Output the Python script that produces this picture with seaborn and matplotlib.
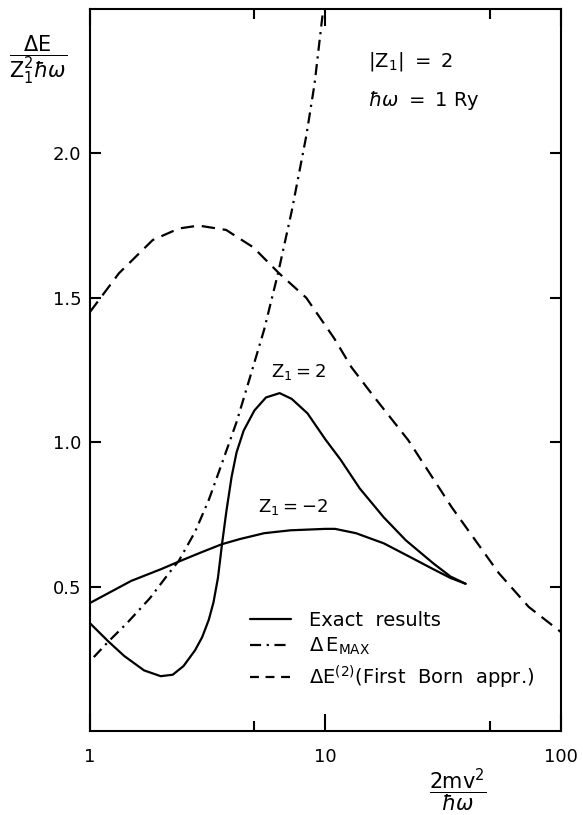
import numpy as np
import pandas as pd
import matplotlib
matplotlib.use("Agg")
import matplotlib.pyplot as plt
import seaborn as sns
from matplotlib.lines import Line2D

# Exact results, Z1 = +2
z_pos_x = [1.0, 1.2, 1.4, 1.7, 2.0, 2.25, 2.5, 2.8, 3.0, 3.2, 3.35, 3.5, 3.64, 3.8, 4.0, 4.2,
           4.5, 5.0, 5.6, 6.4, 7.2, 8.4, 10.0, 11.6, 14.0, 17.7, 22.0, 28.8, 34.0, 39.4]
z_pos_y = [0.374, 0.31, 0.26, 0.21, 0.19, 0.195, 0.225, 0.28, 0.325, 0.385, 0.445, 0.53, 0.645, 0.76, 0.88, 0.965,
           1.04, 1.11, 1.155, 1.17, 1.15, 1.10, 1.01, 0.94, 0.84, 0.74, 0.66, 0.58, 0.535, 0.51]

# Exact results, Z1 = -2
z_neg_x = [1.0, 1.5, 2.0, 2.44, 3.0, 3.64, 4.35, 5.5, 7.1, 10.0, 11.0, 13.5, 17.7, 22.0, 28.8, 34.0, 39.4]
z_neg_y = [0.443, 0.52, 0.56, 0.59, 0.62, 0.647, 0.665, 0.685, 0.695, 0.70, 0.70, 0.685, 0.65, 0.61, 0.56, 0.53, 0.51]

# Delta E max
emax_x = [1.04, 1.2, 1.44, 1.8, 2.17, 2.39, 2.8, 3.2, 3.64, 4.2, 4.75, 5.5, 6.3, 7.2, 8.3, 9.0, 9.8]
emax_y = [0.256, 0.31, 0.374, 0.46, 0.547, 0.59, 0.69, 0.80, 0.927, 1.07, 1.215, 1.39, 1.585, 1.80, 2.06, 2.24, 2.5]

# First Born approximation
born_x = [1.0, 1.33, 1.85, 2.39, 2.9, 3.79, 4.94, 6.36, 8.3, 10.9, 12.9, 16.0, 22.5, 34.4, 54.5, 73.0, 100.0]
born_y = [1.45, 1.585, 1.70, 1.74, 1.75, 1.735, 1.675, 1.585, 1.50, 1.36, 1.26, 1.16, 1.007, 0.775, 0.547, 0.43, 0.343]

y_ticks = [0.5, 1.0, 1.5, 2.0]
y_tick_labels = ["0.5", "1.0", "1.5", "2.0"]
x_ticks = [1, 10, 100]
x_tick_labels = ["1", "10", "100"]
x_minor = [5, 50]

sns.set_style("ticks", {"text.color": "black", "xtick.color": "black", "ytick.color": "black",
                        "axes.edgecolor": "black", "axes.labelcolor": "black"})
plt.rcParams['font.family'] = ['DejaVu Sans']
plt.rcParams['mathtext.fontset'] = 'dejavusans'

fig = plt.figure(figsize=(5.83, 8.15), dpi=100)
ax = fig.add_axes([0.154, 0.103, 0.808, 0.886])

lw = 1.6
dashdot = [5, 2.5, 1, 2.5]
dash = [6, 3.5]
sns.lineplot(x=z_pos_x, y=z_pos_y, ax=ax, color="black", lw=lw, sort=False, estimator=None)
sns.lineplot(x=z_neg_x, y=z_neg_y, ax=ax, color="black", lw=lw, sort=False, estimator=None)
sns.lineplot(x=emax_x, y=emax_y, ax=ax, color="black", lw=lw, sort=False, estimator=None)
ax.lines[-1].set_dashes(dashdot)
sns.lineplot(x=born_x, y=born_y, ax=ax, color="black", lw=lw, sort=False, estimator=None)
ax.lines[-1].set_dashes(dash)

ax.set_xscale("log")
ax.set_xlim(1, 100)
ax.set_ylim(0, 2.5)

ax.set_xticks(x_ticks)
ax.set_xticklabels(x_tick_labels)
ax.set_xticks(x_minor, minor=True)
ax.set_xticklabels([], minor=True)
ax.set_yticks(y_ticks)
ax.set_yticklabels(y_tick_labels)
ax.tick_params(axis="x", which="major", direction="in", length=12, width=1.5,
               top=True, labelsize=13, pad=12)
ax.tick_params(axis="x", which="minor", direction="in", length=7, width=1.5, top=True)
ax.tick_params(axis="y", which="major", direction="in", length=8, width=1.5,
               right=True, labelsize=13, pad=6)
ax.tick_params(axis="y", which="minor", left=False, right=False)
for s in ax.spines.values():
    s.set_linewidth(1.5)
ax.set_xlabel("")
ax.set_ylabel("")

# curve labels
ax.text(7.7, 1.21, r"$\mathregular{Z_1 = 2}$", fontsize=13, ha="center", va="bottom")
ax.text(7.3, 0.74, r"$\mathregular{Z_1 = -2}$", fontsize=13, ha="center", va="bottom")

# parameter box
ax.text(0.59, 0.92, r"$\mathregular{|Z_1|\ =\ 2}$", transform=ax.transAxes, fontsize=14, ha="left")
ax.text(0.59, 0.866, r"$\hbar\omega\ =\ \mathregular{1\ Ry}$", transform=ax.transAxes, fontsize=14, ha="left")

# axis labels as fractions
fig.text(0.065, 0.927, r"$\dfrac{\mathregular{\Delta E}}{\mathregular{Z_1^2}\hbar\omega}$",
         fontsize=15, ha="center", va="center")
fig.text(0.785, 0.03, r"$\dfrac{\mathregular{2mv^2}}{\hbar\omega}$", fontsize=15, ha="center", va="center")

handles = [
    Line2D([], [], color="black", lw=lw),
    Line2D([], [], color="black", lw=lw, dashes=dashdot),
    Line2D([], [], color="black", lw=lw, dashes=[4, 3]),
]
labels = ["Exact  results", r"$\Delta\, \mathregular{E_{MAX}}$",
          r"$\Delta \mathregular{E^{(2)}}$(First  Born  appr.)"]
ax.legend(handles, labels, loc="upper left", bbox_to_anchor=(0.32, 0.18), frameon=False,
          fontsize=14, handlelength=2.1, handletextpad=0.9, labelspacing=0.32, borderpad=0)

fig.savefig("out.png", dpi=100)
